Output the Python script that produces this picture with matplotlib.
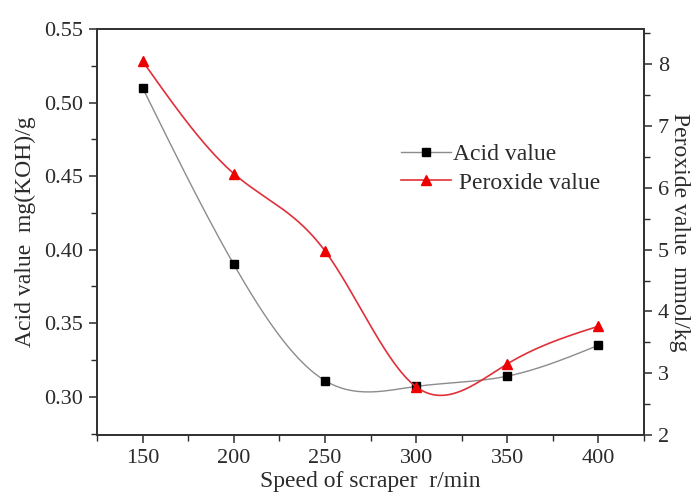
#!/usr/bin/env python3
"""
Acid value and peroxide value vs. scraper speed (dual y-axis, smoothed lines)
"""

import numpy as np
import matplotlib
matplotlib.use("Agg")
import matplotlib.pyplot as plt
from matplotlib.ticker import MultipleLocator
from matplotlib.lines import Line2D

# ============ Data ============
speed = [150, 200, 250, 300, 350, 400]
acid_value = [0.510, 0.390, 0.311, 0.307, 0.314, 0.335]
peroxide_value = [8.05, 6.23, 4.98, 2.78, 3.15, 3.76]

x_ticks = [150, 200, 250, 300, 350, 400]
acid_ticks = [0.30, 0.35, 0.40, 0.45, 0.50, 0.55]
perox_ticks = [2, 3, 4, 5, 6, 7, 8]


def natural_spline(x, y, n=300):
    """
    Natural cubic spline through the points, used only to draw the smooth connecting line
    """
    x = np.asarray(x, float)
    y = np.asarray(y, float)
    k = len(x)
    h = np.diff(x)
    A = np.zeros((k, k))
    b = np.zeros(k)
    A[0, 0] = A[-1, -1] = 1.0
    for i in range(1, k - 1):
        A[i, i - 1] = h[i - 1]
        A[i, i] = 2 * (h[i - 1] + h[i])
        A[i, i + 1] = h[i]
        b[i] = 3 * ((y[i + 1] - y[i]) / h[i] - (y[i] - y[i - 1]) / h[i - 1])
    c = np.linalg.solve(A, b)
    xs = np.linspace(x[0], x[-1], n)
    idx = np.clip(np.searchsorted(x, xs) - 1, 0, k - 2)
    dx = xs - x[idx]
    bb = (y[idx + 1] - y[idx]) / h[idx] - h[idx] * (2 * c[idx] + c[idx + 1]) / 3
    dd = (c[idx + 1] - c[idx]) / (3 * h[idx])
    ys = y[idx] + bb * dx + c[idx] * dx ** 2 + dd * dx ** 3
    return xs, ys


plt.rcParams["font.family"] = ["Liberation Serif", "DejaVu Serif"]
plt.rcParams["text.color"] = "#2b2b2b"
plt.rcParams["axes.labelcolor"] = "#2b2b2b"
plt.rcParams["xtick.color"] = "#2b2b2b"
plt.rcParams["ytick.color"] = "#2b2b2b"

fig = plt.figure(figsize=(6.99, 5.0), dpi=100)
ax = fig.add_axes([0.1388, 0.13, 0.7825, 0.812])
ax2 = ax.twinx()

grey = "#8c8c8c"
red = "#e0303a"

# Acid value (left axis)
xs, ys = natural_spline(speed, acid_value)
ax.plot(xs, ys, color=grey, lw=1.0, zorder=2)
ax.plot(speed, acid_value, ls="none", marker="s", ms=6, color="black", zorder=3)

# Peroxide value (right axis)
xs2, ys2 = natural_spline(speed, peroxide_value)
ax2.plot(xs2, ys2, color=red, lw=1.2, zorder=2)
ax2.plot(speed, peroxide_value, ls="none", marker="^", ms=7.5, color="#ee0000", zorder=3)

ax.set_xlim(125, 425)
ax.set_ylim(0.274, 0.55)
ax2.set_ylim(2, 8.57)

ax.set_xticks(x_ticks)
ax.xaxis.set_minor_locator(MultipleLocator(25))
ax.set_yticks(acid_ticks)
ax.set_yticklabels([f"{v:.2f}" for v in acid_ticks])
ax.yaxis.set_minor_locator(MultipleLocator(0.025))
ax2.set_yticks(perox_ticks)
ax2.yaxis.set_minor_locator(MultipleLocator(0.5))

for a in (ax, ax2):
    for s in a.spines.values():
        s.set_color("#333333")
        s.set_linewidth(1.3)
    a.tick_params(which="major", direction="out", length=6, width=1.1, labelsize=16, pad=4)
    a.tick_params(which="minor", direction="out", length=4, width=1.0)
ax.tick_params(axis="x", which="both", top=False)

ax.set_xlabel("Speed of scraper  r/min", fontsize=17, labelpad=2)
ax.set_ylabel("Acid value  mg(KOH)/g", fontsize=17, labelpad=6)
ax2.set_ylabel("Peroxide value  mmol/kg", fontsize=17, rotation=270, labelpad=15)

# Legend with line-marker-line handles
h1 = Line2D([], [], color=grey, lw=1.0, marker="s", ms=6, mfc="black", mec="black")
h2 = Line2D([], [], color=red, lw=1.2, marker="^", ms=7.5, mfc="#ee0000", mec="#ee0000")
ax2.legend([h1, h2], ["Acid value", " Peroxide value"], loc="upper left",
           bbox_to_anchor=(392 / 699, 1 - 134 / 500), bbox_transform=fig.transFigure,
           frameon=False, fontsize=17, handlelength=2.1, handletextpad=0.1,
           labelspacing=0.3, borderaxespad=0)

fig.savefig("out.png", dpi=100)
